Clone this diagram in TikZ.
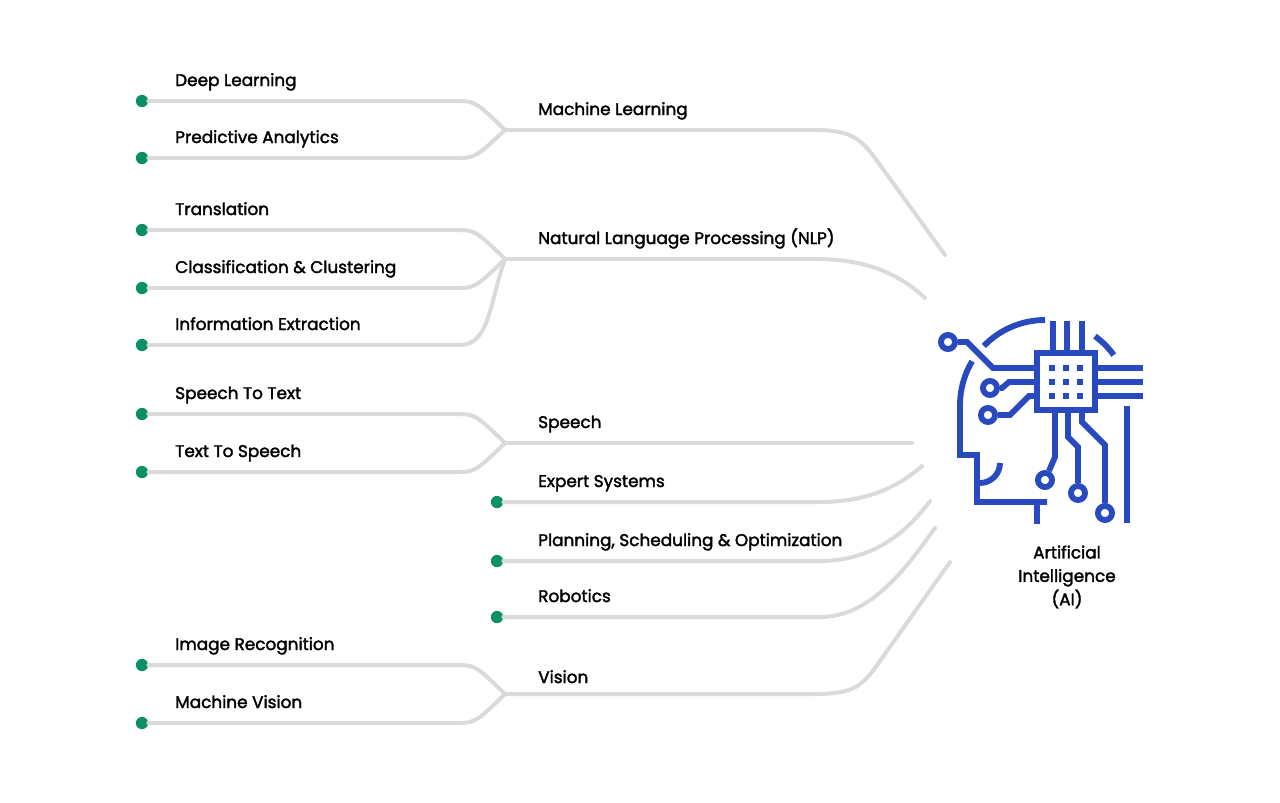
\documentclass[tikz,border=0pt]{standalone}
\usepackage{fontspec}
\setmainfont{Poppins}[FakeBold=2]
\usepackage{tikz}
\usetikzlibrary{positioning, calc}

\definecolor{wire}{RGB}{218,218,218}
\definecolor{leaf}{RGB}{10,145,96}
\definecolor{chip}{RGB}{40,74,190}

\tikzset{
  branch/.style={draw=wire, line width=3.4pt, line cap=round},
  dot/.style={circle, fill=leaf, inner sep=0pt, minimum size=10.5pt},
  label/.style={anchor=base west, inner sep=0pt, font=\fontsize{14.4}{16}\selectfont},
  icon/.style={draw=chip, line width=5pt},
  pin/.style={circle, draw=chip, line width=5pt, inner sep=0pt, minimum size=12pt}
}

\begin{document}
\begin{tikzpicture}[x=0.03cm, y=-0.03cm]
    \useasboundingbox (0,0) rectangle (1280,802);

    % junctions where two leaves meet
    \coordinate (jML)  at (505,130);
    \coordinate (jNLP) at (505,259);
    \coordinate (jSP)  at (505,443);
    \coordinate (jVI)  at (505,694);

    % ends near the head
    \coordinate (eML)  at (945,255);
    \coordinate (eNLP) at (925,298);
    \coordinate (eSP)  at (912,443);
    \coordinate (eES)  at (922,466);
    \coordinate (ePL)  at (930,501);
    \coordinate (eRO)  at (935,528);
    \coordinate (eVI)  at (950,562);

    % leaves
    \foreach \name/\y/\j/\txt in {dl/101/jML/Deep Learning,
                                  pa/158/jML/Predictive Analytics,
                                  tr/230/jNLP/Translation,
                                  cc/288/jNLP/Classification \& Clustering,
                                  sst/414/jSP/Speech To Text,
                                  tts/472/jSP/Text To Speech,
                                  ir/665/jVI/Image Recognition,
                                  mv/723/jVI/Machine Vision}{
        \node [dot] (d\name) at (142,\y) {};
        \node [label] (t\name) at (175,\y-15) {\txt};
        \path [branch] (d\name) -- (455,\y) .. controls (475,\y) .. (\j);
    }
    \node [dot] (die) at (142,345) {};
    \node [label] (tie) at (175,330) {Information Extraction};
    \path [branch] (die) -- (460,345) .. controls (490,345) and (490,300) .. (jNLP);

    % main branches
    \node [label] (tML)  at (538,115) {Machine Learning};
    \path [branch] (jML) -- (815,130) .. controls (850,130) and (860,138) .. (875,158) -- (eML);
    \node [label] (tNLP) at (538,244) {Natural Language Processing (NLP)};
    \path [branch] (jNLP) -- (815,259) .. controls (860,259) and (895,270) .. (eNLP);
    \node [label] (tSP)  at (538,428) {Speech};
    \path [branch] (jSP) -- (eSP);

    \node [dot] (dES) at (497,502) {};
    \node [label] (tES) at (538,487) {Expert Systems};
    \path [branch] (dES) -- (820,502) .. controls (870,502) and (900,485) .. (eES);
    \node [dot] (dPL) at (497,561) {};
    \node [label] (tPL) at (538,546) {Planning, Scheduling \& Optimization};
    \path [branch] (dPL) -- (820,561) .. controls (870,561) and (905,535) .. (ePL);
    \node [dot] (dRO) at (497,617) {};
    \node [label] (tRO) at (538,602) {Robotics};
    \path [branch] (dRO) -- (820,617) .. controls (870,617) and (905,570) .. (eRO);

    \node [label] (tVI)  at (538,683) {Vision};
    \path [branch] (jVI) -- (815,694) .. controls (850,694) and (860,688) .. (875,668) -- (eVI);

    % head icon
    \draw [icon] (1037,353) rectangle (1095,410);
    \foreach \x in {1052,1066,1080}
        \foreach \y in {368,382,396}
            \fill [chip] (\x-3,\y-3) rectangle (\x+3,\y+3);
    \foreach \x in {1053,1067,1082}
        \draw [icon] (\x,321) -- (\x,353);
    \foreach \y in {368,382,396}
        \draw [icon] (1095,\y) -- (1143,\y);
    \draw [icon] (1127,406) -- (1127,523);
    \draw [icon] (1045,320) arc [start angle=-90, end angle=-136, radius=85];
    \draw [icon] (1045,405) ++(-149:85) arc [start angle=-149, end angle=-180, radius=85]
                 -- (960,455) -- (977,455) -- (977,502) -- (1047,502);
    \draw [icon] (1045,405) ++(-36:85) arc [start angle=-36, end angle=-54, radius=85];
    \draw [icon] (1000,463) arc [start angle=0, end angle=90, radius=20];
    \draw [icon] (1037,502) -- (1037,524);

    \node [pin] (p1) at (948,342) {};
    \draw [icon] (p1) -- (967,342) -- (993,368) -- (1037,368);
    \node [pin] (p2) at (990,388) {};
    \draw [icon] (p2) -- (1002,388) -- (1009,382) -- (1037,382);
    \node [pin] (p3) at (988,415) {};
    \draw [icon] (p3) -- (1010,415) -- (1029,396) -- (1037,396);
    \node [pin] (p4) at (1045,480) {};
    \draw [icon] (1055,410) -- (1055,457) -- (p4);
    \node [pin] (p5) at (1078,493) {};
    \draw [icon] (1068,410) -- (1068,437) -- (1078,447) -- (p5);
    \node [pin] (p6) at (1105,513) {};
    \draw [icon] (1082,410) -- (1082,422) -- (1105,445) -- (p6);

    \node [align=center, font=\fontsize{14.4}{20}\selectfont] (ai) at (1067,577)
        {Artificial\\Intelligence\\(AI)};
\end{tikzpicture}
\end{document}
